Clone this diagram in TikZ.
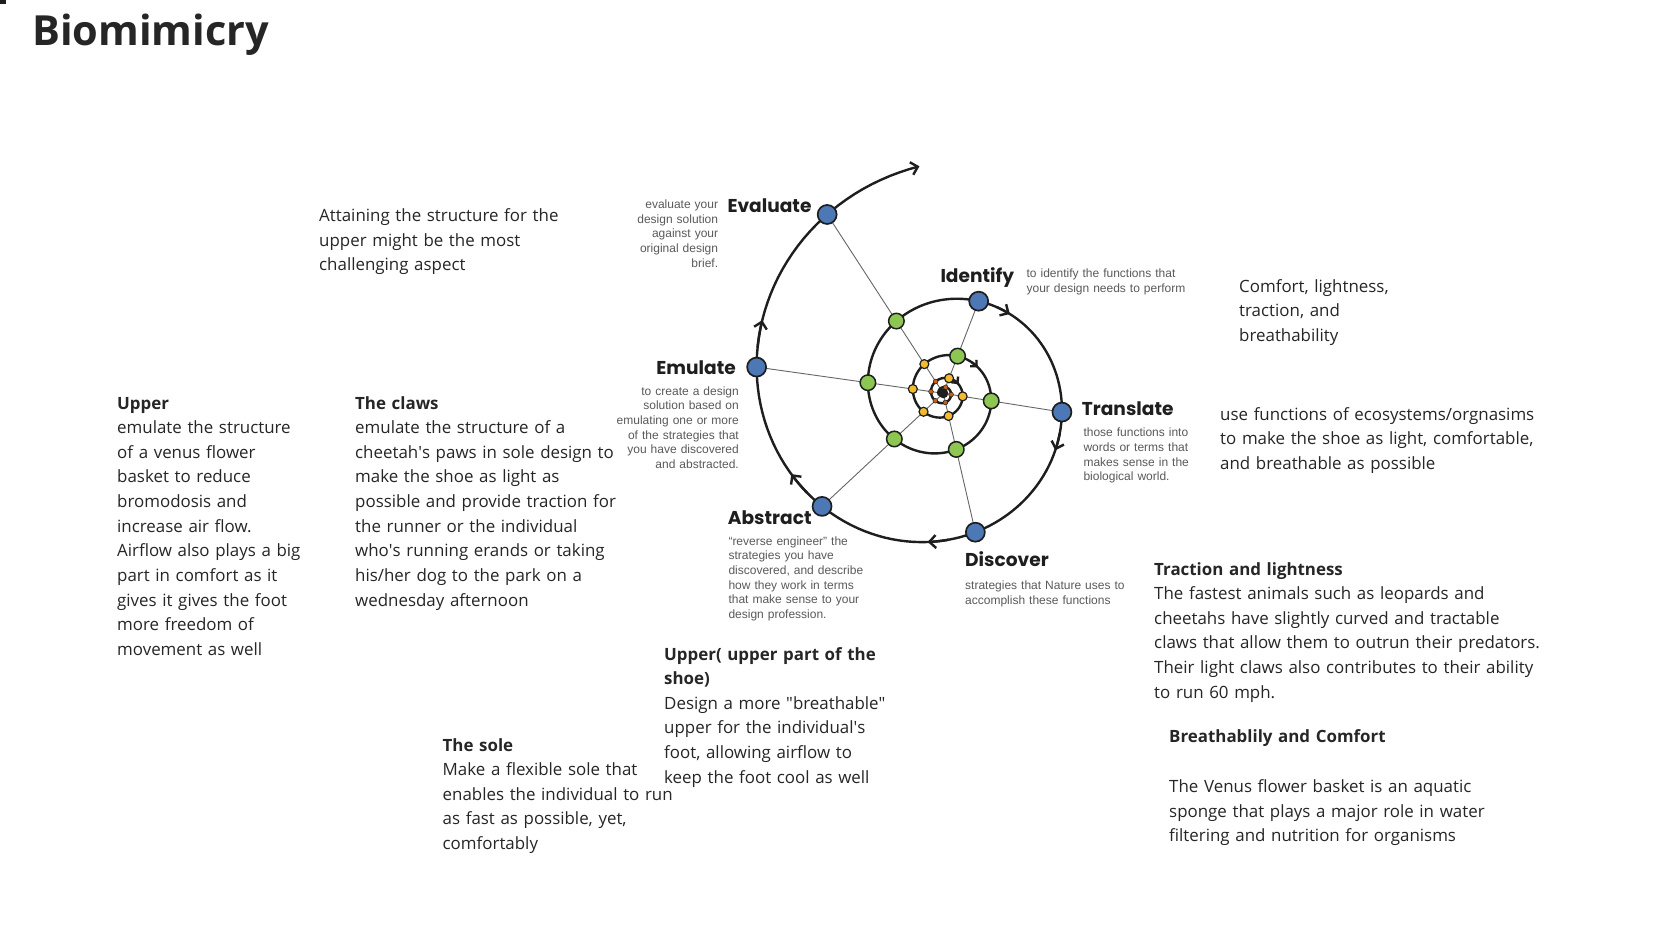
\documentclass[tikz,border=0pt]{standalone}
\usepackage{fontspec}
\setmainfont{Open Sans}
\newfontfamily\phasefont{Poppins}
\newfontfamily\notefont{Liberation Sans}
\usepackage{tikz}
\usetikzlibrary{arrows.meta}
\definecolor{ink}{HTML}{262626}
\definecolor{notegray}{HTML}{5A5A5A}
\definecolor{edge}{HTML}{1E1E1E}
\definecolor{pblue}{HTML}{4D78B6}
\definecolor{pgreen}{HTML}{8DC653}
\definecolor{pyellow}{HTML}{F2BC2E}
\definecolor{porange}{HTML}{C2601C}
\definecolor{spokegray}{HTML}{666666}
\tikzset{
  every picture/.style={line join=round, line cap=round, >=Stealth},
  body/.style={anchor=base west, inner sep=0pt, text width=430pt, align=left, text=ink, font=\fontsize{16.9}{24.65}\selectfont},
  heading/.style={anchor=base west, inner sep=0pt, text=ink, font=\bfseries\fontsize{41.5}{41.5}\selectfont},
  phase/.style={inner sep=0pt, text=edge, font=\phasefont\bfseries\fontsize{18.6}{18.6}\selectfont},
  note/.style={inner sep=0pt, text width=170pt, text=notegray, font=\notefont\fontsize{12}{14.7}\selectfont},
  spiral/.style={line width=2.4pt, draw=edge},
  spoke/.style={line width=0.9pt, draw=spokegray},
  flowtip/.style={-{Straight Barb[length=6.5pt,width=13pt]}},
  smalltip/.style={-{Straight Barb[length=4.5pt,width=9pt]}},
  bluedot/.style={circle, inner sep=0pt, minimum size=19pt, line width=1.7pt, draw=edge, fill=pblue},
  greendot/.style={circle, inner sep=0pt, minimum size=15.5pt, line width=1.5pt, draw=edge, fill=pgreen},
  yellowdot/.style={circle, inner sep=0pt, minimum size=9pt, line width=1.2pt, draw=edge, fill=pyellow},
  orangedot/.style={circle, inner sep=0pt, minimum size=4.8pt, line width=0.5pt, draw=edge, fill=porange},
  coredot/.style={circle, inner sep=0pt, minimum size=10pt, fill=edge},
}

\begin{document}
\begin{tikzpicture}[x=1pt,y=-1pt]
\useasboundingbox (0,0) rectangle (1666,937);
\fill[white] (0,0) rectangle (1666,937);
\fill[edge] (0,0) rectangle (6,4);

% spiral points, one spoke per phase, four turns
\coordinate (hub) at (943.3,393.3);
\foreach \nm/\a in {eval/123,emul/172,abst/223,disc/283,tran/351,iden/429}{
  \foreach \k in {0,1,2,3}
    \coordinate (\nm\k) at ({943.3+290.6*exp(-0.002514*(\a+360*\k))*cos(\a+360*\k)},{393.3-290.6*exp(-0.002514*(\a+360*\k))*sin(\a+360*\k)});
}
\foreach \nm in {eval,emul,abst,disc,tran,iden}
  \draw[spoke] (hub) -- (\nm0);

\draw[spiral,flowtip] plot[domain=1640:96,samples=600,variable=\t] ({943.3+290.6*exp(-0.002514*\t)*cos(\t)},{393.3-290.6*exp(-0.002514*\t)*sin(\t)});
\foreach \t [evaluate=\t as \u using \t+8] in {410,333,264,208,158}
  \draw[spiral,flowtip] plot[domain=\u:\t,samples=5,variable=\s] ({943.3+290.6*exp(-0.002514*\s)*cos(\s)},{393.3-290.6*exp(-0.002514*\s)*sin(\s)});
\foreach \t [evaluate=\t as \u using \t+10] in {757,1111}
  \draw[spiral,smalltip] plot[domain=\u:\t,samples=5,variable=\s] ({943.3+290.6*exp(-0.002514*\s)*cos(\s)},{393.3-290.6*exp(-0.002514*\s)*sin(\s)});

\foreach \nm in {eval,emul,abst,disc,tran,iden}{
  \node[bluedot] (\nm-blue) at (\nm0) {};
  \node[greendot] (\nm-green) at (\nm1) {};
  \node[yellowdot] (\nm-yellow) at (\nm2) {};
  \node[orangedot] (\nm-orange) at (\nm3) {};
}
\node[coredot] (core) at (hub) {};

% phase labels
\node[phase,anchor=base east] (eval-lbl) at (811.7,212.7) {Evaluate};
\node[note,anchor=base east,align=right] (eval-txt) at (718.3,208.3) {evaluate your\\design solution\\against your\\original design\\brief.};
\node[phase,anchor=base west] (iden-lbl) at (940.3,282.6) {Identify};
\node[note,anchor=base west,align=left,text width=220pt] (iden-txt) at (1026.4,277.8) {to identify the functions that\\your design needs to perform};
\node[phase,anchor=base east] (emul-lbl) at (736,374.3) {Emulate};
\node[note,anchor=base east,align=right] (emul-txt) at (739,395) {to create a design\\solution based on\\emulating one or more\\of the strategies that\\you have discovered\\and abstracted.};
\node[phase,anchor=base west] (tran-lbl) at (1081.7,415) {Translate};
\node[note,anchor=base west,align=left] (tran-txt) at (1083.3,436.7) {those functions into\\words or terms that\\makes sense in the\\biological world.};
\node[phase,anchor=base west] (abst-lbl) at (727.7,524.3) {Abstract};
\node[note,anchor=base west,align=left] (abst-txt) at (728.3,545) {“reverse engineer” the\\strategies you have\\discovered, and describe\\how they work in terms\\that make sense to your\\design profession.};
\node[phase,anchor=base west] (disc-lbl) at (965,566.7) {Discover};
\node[note,anchor=base west,align=left,text width=220pt] (disc-txt) at (965,589.3) {strategies that Nature uses to\\accomplish these functions};

% notes around the diagram
\node[heading] (title) at (32,45) {Biomimicry};
\node[body] (attain) at (319,221.5) {Attaining the structure for the\\upper might be the most\\challenging aspect};
\node[body] (upper) at (117,409) {\textbf{Upper}\\emulate the structure\\of a venus flower\\basket to reduce\\bromodosis and\\increase air flow.\\Airflow also plays a big\\part in comfort as it\\gives it gives the foot\\more freedom of\\movement as well};
\node[body] (claws) at (355,409) {\textbf{The claws}\\emulate the structure of a\\cheetah\textquotesingle s paws in sole design to\\make the shoe as light as\\possible and provide traction for\\the runner or the individual\\who\textquotesingle s running erands or taking\\his/her dog to the park on a\\wednesday afternoon};
\node[body] (sole) at (442.5,751) {\textbf{The sole}\\Make a flexible sole that\\enables the individual to run\\as fast as possible, yet,\\comfortably};
\node[body] (shoeup) at (664,660) {\textbf{Upper( upper part of the}\\\textbf{shoe)}\\Design a more \textquotedbl breathable\textquotedbl\\upper for the individual\textquotesingle s\\foot, allowing airflow to\\keep the foot cool as well};
\node[body] (needs) at (1239,292) {Comfort, lightness,\\traction, and\\breathability};
\node[body] (usefn) at (1220,420) {use functions of ecosystems/orgnasims\\to make the shoe as light, comfortable,\\and breathable as possible};
\node[body] (traction) at (1154,575) {\textbf{Traction and lightness}\\The fastest animals such as leopards and\\cheetahs have slightly curved and tractable\\claws that allow them to outrun their predators.\\Their light claws also contributes to their ability\\to run 60 mph.};
\node[body] (breath) at (1169,742.5) {\textbf{Breathablily and Comfort}};
\node[body] (venus) at (1169,792.5) {The Venus flower basket is an aquatic\\sponge that plays a major role in water\\filtering and nutrition for organisms};
\end{tikzpicture}
\end{document}
